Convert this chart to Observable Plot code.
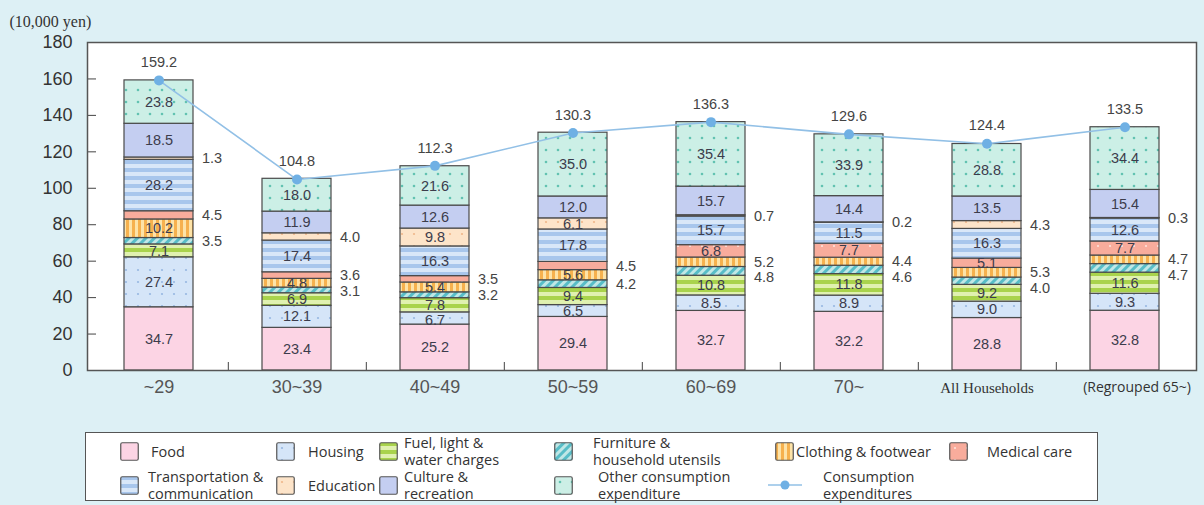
<!DOCTYPE html>
<html><head><meta charset="utf-8">
<script src="https://cdn.jsdelivr.net/npm/d3@7"></script>
<script src="https://cdn.jsdelivr.net/npm/@observablehq/plot@0.6"></script>
<style>
html,body{margin:0;padding:0}
body{background:#ddf0f5;width:1204px;height:505px;overflow:hidden;position:relative;font-family:"Liberation Sans",Arial,sans-serif}
#chart{position:absolute;left:0;top:0}
#defs{position:absolute;left:0;top:0;width:0;height:0}
#legend{position:absolute;left:85px;top:432px;width:1013px;height:69px;background:#fff;border:1.5px solid #555;box-sizing:border-box;font-family:"Open Sans",sans-serif;font-size:14.5px;color:#333}
.sw{position:absolute}
.lt{position:absolute;line-height:17px;white-space:nowrap}
</style>
</head><body>
<svg id="defs" width="0" height="0">
<defs>
<pattern id="pat0" patternUnits="userSpaceOnUse" width="10" height="10"><rect width="10" height="10" fill="#fcd4e4"/></pattern>
<pattern id="pat1" patternUnits="userSpaceOnUse" width="12" height="12"><rect width="12" height="12" fill="#d5e5f8"/><circle cx="6" cy="6" r="1.1" fill="#98b8e2"/></pattern>
<pattern id="pat2" patternUnits="userSpaceOnUse" width="8" height="8"><rect width="8" height="8" fill="#e0f1b0"/><rect width="8" height="4" fill="#a9d34c"/></pattern>
<pattern id="pat3" patternUnits="userSpaceOnUse" width="6" height="6" patternTransform="rotate(45)"><rect width="6" height="6" fill="#c0e7e6"/><rect width="3" height="6" fill="#58bdc7"/></pattern>
<pattern id="pat4" patternUnits="userSpaceOnUse" width="6" height="6"><rect width="6" height="6" fill="#fde3a8"/><rect width="3" height="6" fill="#f6b14e"/></pattern>
<pattern id="pat5" patternUnits="userSpaceOnUse" width="12" height="12"><rect width="12" height="12" fill="#f8ac9c"/><circle cx="6" cy="6" r="1.1" fill="#fde3dc"/></pattern>
<pattern id="pat6" patternUnits="userSpaceOnUse" width="8" height="8"><rect width="8" height="8" fill="#d9e7f8"/><rect width="8" height="4" fill="#a8c6ec"/></pattern>
<pattern id="pat7" patternUnits="userSpaceOnUse" width="12" height="12"><rect width="12" height="12" fill="#fde4c9"/><circle cx="6" cy="6" r="1.1" fill="#f0b78a"/></pattern>
<pattern id="pat8" patternUnits="userSpaceOnUse" width="10" height="10"><rect width="10" height="10" fill="#c4cef1"/></pattern>
<pattern id="pat9" patternUnits="userSpaceOnUse" width="12" height="12"><rect width="12" height="12" fill="#ccefe6"/><circle cx="6" cy="6" r="1.3" fill="#62c2b1"/></pattern>
</defs>
</svg>
<div id="chart"></div>
<div id="legend"></div>
<script>
// ---------- data ----------
const categories = ["~29","30~39","40~49","50~59","60~69","70~","All Households","(Regrouped 65~)"];
const seriesNames = ["Food","Housing","Fuel, light & water charges","Furniture & household utensils","Clothing & footwear","Medical care","Transportation & communication","Education","Culture & recreation","Other consumption expenditure"];
const food      = [34.7,23.4,25.2,29.4,32.7,32.2,28.8,32.8];
const housing   = [27.4,12.1,6.7,6.5,8.5,8.9,9.0,9.3];
const fuel      = [7.1,6.9,7.8,9.4,10.8,11.8,9.2,11.6];
const furniture = [3.5,3.1,3.2,4.2,4.8,4.6,4.0,4.7];
const clothing  = [10.2,4.8,5.4,5.6,5.2,4.4,5.3,4.7];
const medical   = [4.5,3.6,3.5,4.5,6.8,7.7,5.1,7.7];
const transport = [28.2,17.4,16.3,17.8,15.7,11.5,16.3,12.6];
const education = [1.3,4.0,9.8,6.1,0.7,0.2,4.3,0.3];
const culture   = [18.5,11.9,12.6,12.0,15.7,14.4,13.5,15.4];
const other     = [23.8,18.0,21.6,35.0,35.4,33.9,28.8,34.4];
const totals    = [159.2,104.8,112.3,130.3,136.3,129.6,124.4,133.5];
const yTicks    = [0,20,40,60,80,100,120,140,160,180];
// segments whose value label sits to the right of the bar
const outsideLabels = {
  "~29": ["Furniture & household utensils","Medical care","Education"],
  "30~39": ["Furniture & household utensils","Medical care","Education"],
  "40~49": ["Furniture & household utensils","Medical care"],
  "50~59": ["Furniture & household utensils","Medical care"],
  "60~69": ["Furniture & household utensils","Clothing & footwear","Education"],
  "70~": ["Furniture & household utensils","Clothing & footwear","Education"],
  "All Households": ["Furniture & household utensils","Clothing & footwear","Education"],
  "(Regrouped 65~)": ["Furniture & household utensils","Clothing & footwear","Education"]
};
const seriesValues = [food,housing,fuel,furniture,clothing,medical,transport,education,culture,other];

// ---------- build tables ----------
function dodge(list, gap, out) {
  list.sort((a, b) => b.mid - a.mid);
  let prev = Infinity;
  list.forEach(r => {
    const y = Math.min(r.mid, prev - gap);
    out.push({...r, ly: y});
    prev = y;
  });
}
const rows = [];
const inside = [], outside = [];
categories.forEach((cat, i) => {
  let acc = 0;
  const outs = [], ins = [];
  seriesNames.forEach((s, j) => {
    const v = seriesValues[j][i];
    const r = {cat, series: s, value: v, mid: acc + v / 2};
    rows.push(r);
    if (outsideLabels[cat].includes(s)) outs.push(r); else ins.push(r);
    acc += v;
  });
  dodge(ins, 8.3, inside);
  dodge(outs, 8.5, outside);
});
const totalsData = categories.map((cat, i) => ({cat, total: totals[i]}));

const W = 1204, H = 425, mL = 87, mR = 8, mT = 42, bottom = 370;
const step = (W - mL - mR) / categories.length;
const numFont = "Liberation Sans, Arial, sans-serif";

const chart = Plot.plot({
  width: W, height: H,
  marginLeft: mL, marginRight: mR, marginTop: mT, marginBottom: H - bottom,
  style: {background: "transparent", fontFamily: numFont},
  x: {domain: categories, paddingInner: 0.5, paddingOuter: 0.25, axis: null},
  y: {domain: [0, 180], axis: null},
  color: {domain: seriesNames, range: seriesNames.map((d, i) => `url(#pat${i})`)},
  marks: [
    Plot.frame({fill: "white", stroke: null}),
    Plot.barY(rows, {x: "cat", y: "value", fill: "series", stroke: "#4a4a4a", strokeWidth: 1.2}),
    Plot.text(inside, {x: "cat", y: "ly", text: d => d.value.toFixed(1), fontSize: 14.5, fill: "#3c3c4c"}),
    Plot.text(outside, {x: "cat", y: "ly", text: d => d.value.toFixed(1), fontSize: 14.5, fill: "#444", textAnchor: "start", dx: 43}),
    Plot.line(totalsData, {x: "cat", y: "total", stroke: "#92c0e6", strokeWidth: 1.6}),
    Plot.dot(totalsData, {x: "cat", y: "total", r: 5, fill: "#6fb0e4"}),
    Plot.text(totalsData, {x: "cat", y: "total", text: d => d.total.toFixed(1), dy: -18, fontSize: 14.5, fill: "#444"}),
    Plot.tickY(yTicks, {y: d => d, stroke: "#444", strokeWidth: 1, insetRight: W - mL - mR - 9}),
    Plot.tickX(categories.slice(0, categories.length - 1), {x: d => d, dx: step / 2, stroke: "#444", insetTop: bottom - mT - 8}),
    Plot.frame({stroke: "#555", strokeWidth: 1.5}),
    Plot.axisY(yTicks, {tickSize: 0, tickPadding: 15, fontSize: 18, fill: "#333", label: null}),
    Plot.axisX(categories.slice(0, 6), {tickSize: 0, tickPadding: 10, fontSize: 18, fill: "#555", label: null}),
    Plot.axisX(["All Households"], {tickSize: 0, tickPadding: 12, fontSize: 15, fill: "#333", fontFamily: "Liberation Serif, Times New Roman, serif", label: null}),
    Plot.axisX(["(Regrouped 65~)"], {tickSize: 0, tickPadding: 12, fontSize: 14, fill: "#333", fontFamily: "Open Sans, sans-serif", dx: 12, label: null}),
    Plot.text(["(10,000 yen)"], {frameAnchor: "top-left", dx: -78, dy: -27, textAnchor: "start", fontSize: 16, fill: "#333", fontFamily: "Liberation Serif, Times New Roman, serif"})
  ]
});
document.getElementById("chart").appendChild(chart);

// ---------- legend ----------
const legendItems = [
  {lines: ["Food"], sx: 119, tx: 150, row: 0, pat: 0},
  {lines: ["Housing"], sx: 275, tx: 307, row: 0, pat: 1},
  {lines: ["Fuel, light &", "water charges"], sx: 378, tx: 403, row: 0, pat: 2},
  {lines: ["Furniture &", "household utensils"], sx: 553, tx: 592, row: 0, pat: 3},
  {lines: ["Clothing & footwear"], sx: 774, tx: 795, row: 0, pat: 4},
  {lines: ["Medical care"], sx: 948, tx: 986, row: 0, pat: 5},
  {lines: ["Transportation &", "communication"], sx: 119, tx: 147, row: 1, pat: 6},
  {lines: ["Education"], sx: 275, tx: 307, row: 1, pat: 7},
  {lines: ["Culture &", "recreation"], sx: 378, tx: 403, row: 1, pat: 8},
  {lines: ["Other consumption", "expenditure"], sx: 553, tx: 597, row: 1, pat: 9},
  {lines: ["Consumption", "expenditures"], sx: 767, tx: 822, row: 1, pat: -1}
];
const legend = document.getElementById("legend");
const L0 = 85, T0 = 432, S = 19;
legendItems.forEach(it => {
  const cy = it.row === 0 ? 450 : 484;
  if (it.pat >= 0) {
    const s = d3.create("svg").attr("class", "sw").attr("width", S).attr("height", S)
      .style("left", (it.sx - L0) + "px").style("top", (cy - S / 2 - T0) + "px");
    s.append("rect").attr("x", 0.75).attr("y", 0.75).attr("width", S - 1.5).attr("height", S - 1.5).attr("rx", 1.5)
      .attr("fill", `url(#pat${it.pat})`).attr("stroke", "#555").attr("stroke-width", 1.2);
    legend.appendChild(s.node());
  } else {
    const s = d3.create("svg").attr("width", 34).attr("height", 12)
      .style("position", "absolute").style("left", (it.sx - L0) + "px").style("top", (cy - 6 - T0) + "px");
    s.append("line").attr("x1", 0).attr("x2", 34).attr("y1", 6).attr("y2", 6).attr("stroke", "#92c0e6").attr("stroke-width", 1.6);
    s.append("circle").attr("cx", 17).attr("cy", 6).attr("r", 4.5).attr("fill", "#6fb0e4");
    legend.appendChild(s.node());
  }
  const t = document.createElement("div");
  t.className = "lt";
  t.style.left = (it.tx - L0) + "px";
  const h = it.lines.length * 17;
  t.style.top = (cy - h / 2 - T0) + "px";
  t.innerHTML = it.lines.map(l => l.replace(/&/g, "&amp;")).join("<br>");
  legend.appendChild(t);
});
</script>
</body></html>
